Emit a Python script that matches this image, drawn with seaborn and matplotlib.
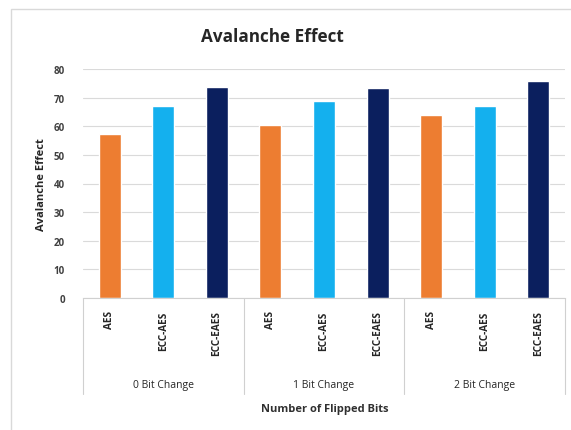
import matplotlib
matplotlib.use("Agg")
import matplotlib.pyplot as plt
import matplotlib.transforms as mtransforms
from matplotlib.patches import Rectangle
import pandas as pd
import seaborn as sns

# Data
groups = ["0 Bit Change", "1 Bit Change", "2 Bit Change"]
methods = ["AES", "ECC-AES", "ECC-EAES"]
aes_values = [57.3, 60.5, 64.0]
ecc_aes_values = [67.0, 68.8, 67.0]
ecc_eaes_values = [73.7, 73.3, 75.8]
y_ticks = [0, 10, 20, 30, 40, 50, 60, 70, 80]

colors = {"AES": "#ED7D31", "ECC-AES": "#14B0EE", "ECC-EAES": "#0B1F5E"}

rows = []
series = {"AES": aes_values, "ECC-AES": ecc_aes_values, "ECC-EAES": ecc_eaes_values}
for gi, g in enumerate(groups):
    for m in methods:
        rows.append({"slot": f"{g}|{m}", "group": g, "method": m,
                     "value": series[m][gi]})
df = pd.DataFrame(rows)

sns.set_theme(style="white")
plt.rcParams["font.family"] = ["Open Sans", "DejaVu Sans"]

fig = plt.figure(figsize=(5.71, 4.31), dpi=100)
W, H = 571, 431
ax = fig.add_axes([83 / W, 1 - 299 / H, (565 - 83) / W, (299 - 70) / H])

sns.barplot(data=df, x="slot", y="value", hue="method", palette=colors,
            dodge=False, width=0.41, legend=False, ax=ax, saturation=1)

ax.set_ylim(0, 80)
ax.set_xlim(-0.5, len(df) - 0.5)
ax.set_yticks(y_ticks)
ax.set_yticklabels([str(t) for t in y_ticks], fontsize=7, color="#404040",
                   fontweight="bold")
ax.tick_params(axis="y", length=0, pad=13)
ax.yaxis.grid(True, color="#DADADA", linewidth=0.8)
ax.set_axisbelow(True)
for s in ["top", "right", "left"]:
    ax.spines[s].set_visible(False)
ax.spines["bottom"].set_color("#D0D0D0")
ax.spines["bottom"].set_linewidth(0.8)

ax.set_xticks(range(len(df)))
ax.set_xticklabels(df["method"], rotation=90, fontsize=7.2, fontweight="bold",
                   color="#262626", va="top")
ax.tick_params(axis="x", length=0, pad=9)
ax.set_xlabel("")
ax.set_ylabel("Avalanche Effect", fontsize=8, fontweight="bold",
              color="#262626", labelpad=5)

# Group labels and separators under the axis
trans = mtransforms.blended_transform_factory(ax.transData, ax.transAxes)
sep_bottom = -(395 - 299) / (299 - 70)
for gi, g in enumerate(groups):
    ax.text(gi * 3 + 1, -(386 - 299) / (299 - 70), g, transform=trans,
            ha="center", va="center", fontsize=7.5, color="#262626",
            fontweight="medium")
for b in [-0.5, 2.5, 5.5, 8.5]:
    ax.plot([b, b], [0, sep_bottom], transform=trans, color="#D0D0D0",
            linewidth=0.8, clip_on=False)

fig.text(325 / W, 1 - 410 / H, "Number of Flipped Bits", ha="center",
         va="center", fontsize=8, fontweight="bold", color="#303030")
fig.text(272 / W, 1 - 37 / H, "Avalanche Effect", ha="center", va="center",
         fontsize=12.3, fontweight="bold", color="#262626")

# Chart frame
fig.patches.append(Rectangle((11 / W, -0.05), 1.0, 1 - 10 / H + 0.05,
                             transform=fig.transFigure, fill=False,
                             edgecolor="#D9D9D9", linewidth=1.0))

fig.savefig("out.png", dpi=100)
